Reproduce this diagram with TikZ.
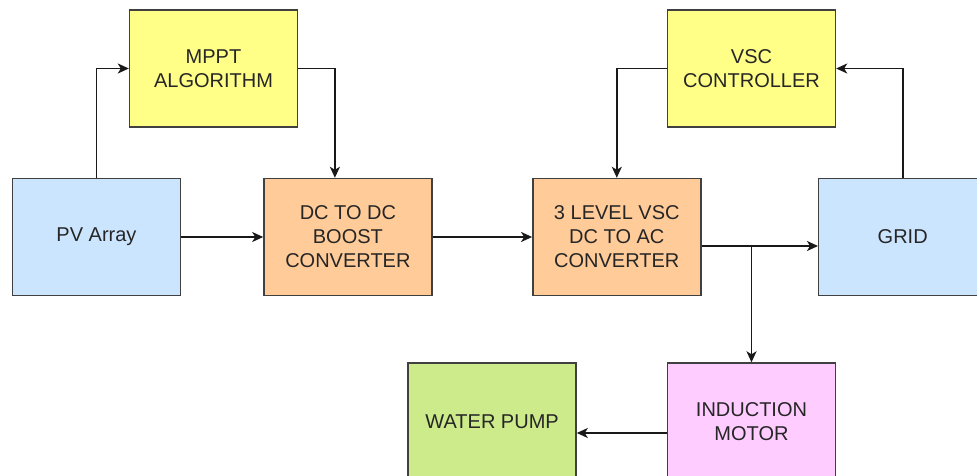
\documentclass[tikz,border=0pt]{standalone}
\usepackage{fontspec}
\setmainfont{Liberation Sans}
\usepackage{xcolor}
\usepackage{tikz}
\usetikzlibrary{arrows.meta,positioning}
\definecolor{pvblue}{HTML}{CCE5FF}
\definecolor{mpptyellow}{HTML}{FFFF88}
\definecolor{convorange}{HTML}{FFCC99}
\definecolor{motorpink}{HTML}{FFCCFF}
\definecolor{pumpgreen}{HTML}{CDEB8B}
\definecolor{edge}{HTML}{404040}

\begin{document}
\begin{tikzpicture}[
  x=1pt,y=1pt,
  box/.style={draw=edge,line width=1.4pt,fill=pvblue,align=center,inner sep=0pt,
    minimum width=168pt,minimum height=117pt,text=black!85,
    font=\fontsize{20}{24}\selectfont},
  ctrlbox/.style={box,fill=mpptyellow},
  convbox/.style={box,fill=convorange},
  line/.style={-{Stealth[length=11pt,width=10pt,inset=3pt]},line width=1.6pt,draw=black!90}
]
\useasboundingbox (0,0) rectangle (977,-476);
\node[box] (pv) at (96.5,-237) {PV Array};
\node[convbox,right=82pt of pv] (boost) {DC TO DC\\BOOST\\CONVERTER};
\node[convbox,right=99.5pt of boost] (vsc) {3 LEVEL VSC\\DC TO AC\\CONVERTER};
\node[box,right=116.5pt of vsc] (grid) {GRID};
\node[ctrlbox] (mppt) at (213.5,-68.5) {MPPT\\ALGORITHM};
\node[ctrlbox] (vscctrl) at (751.5,-68.5) {VSC\\CONTROLLER};
\node[box,fill=motorpink] (motor) at (751.5,-421.5) {INDUCTION\\MOTOR};
\node[box,fill=pumpgreen,left=90pt of motor] (pump) {WATER PUMP};
\coordinate (vout) at ([yshift=-9pt]vsc.east);
\coordinate (tap) at (vout -| motor.north);
\draw[line] (pv.north) |- (mppt.west);
\draw[line] (mppt.east) -| ([xshift=-13pt]boost.north);
\draw[line] (pv)--(boost);
\draw[line] (boost)--(vsc);
\draw[line] (vscctrl.west) -| (vsc.north);
\draw[line] (grid.north) |- (vscctrl.east);
\draw[line] (vout)--(vout -| grid.west);
\draw[line] (tap)--(motor.north);
\draw[line] ([yshift=-11.5pt]motor.west)--([yshift=-11.5pt]pump.east);
\end{tikzpicture}
\end{document}
